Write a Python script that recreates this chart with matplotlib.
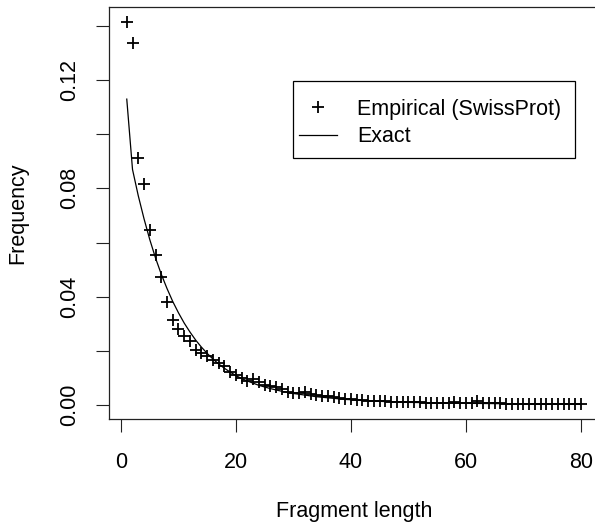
"""Fragment length distribution: empirical SwissProt frequencies vs exact curve."""

import numpy as np
import matplotlib
matplotlib.use('Agg')
import matplotlib.pyplot as plt
from matplotlib.patches import Rectangle

plt.rcParams['font.family'] = ['Liberation Sans', 'DejaVu Sans']

# Fragment lengths 1..80
lengths = list(range(1, 81))

# Empirical frequencies (SwissProt)
empirical = [
    0.1414, 0.1338, 0.0911, 0.0816, 0.0648, 0.0554, 0.0472, 0.0381, 0.0312, 0.0281,
    0.0253, 0.0235, 0.0201, 0.0191, 0.0179, 0.0167, 0.0154, 0.0142, 0.0120, 0.0111,
    0.0100, 0.0088, 0.0095, 0.0086, 0.0074, 0.0070, 0.0065, 0.0058, 0.0049, 0.0044,
    0.0043, 0.0046, 0.0041, 0.0037, 0.0033, 0.0031, 0.0028, 0.0025, 0.0022, 0.0020,
    0.0019, 0.0017, 0.0016, 0.0015, 0.0014, 0.0013, 0.0012, 0.0011, 0.0010, 0.0010,
    0.0009, 0.0009, 0.0008, 0.0008, 0.0007, 0.0007, 0.0007, 0.0009, 0.0006, 0.0006,
    0.0006, 0.0014, 0.0005, 0.0005, 0.0005, 0.0005, 0.0004, 0.0004, 0.0004, 0.0004,
    0.0004, 0.0004, 0.0003, 0.0003, 0.0003, 0.0003, 0.0003, 0.0003, 0.0003, 0.0003,
]

# Exact curve values at the same lengths
exact = [
    0.1130, 0.0870, 0.0773, 0.0688, 0.0611, 0.0543, 0.0483, 0.0430, 0.0382, 0.0340,
    0.0302, 0.0269, 0.0239, 0.0213, 0.0190, 0.0169, 0.0151, 0.0135, 0.0121, 0.0108,
    0.0097, 0.0088, 0.0080, 0.0072, 0.0066, 0.0060, 0.0055, 0.0050, 0.0046, 0.0042,
    0.0039, 0.0036, 0.0033, 0.0030, 0.0028, 0.0026, 0.0024, 0.0022, 0.0020, 0.0019,
    0.0017, 0.0016, 0.0015, 0.0014, 0.0013, 0.0012, 0.0011, 0.0011, 0.0010, 0.0009,
    0.00088, 0.00084, 0.0008, 0.00076, 0.00072, 0.00068, 0.00065, 0.00062, 0.00059, 0.00056,
    0.00054, 0.00052, 0.0005, 0.00048, 0.00046, 0.00044, 0.00042, 0.00041, 0.0004, 0.00038,
    0.00037, 0.00036, 0.00035, 0.00034, 0.00033, 0.00032, 0.00031, 0.0003, 0.0003, 0.00029,
]

x_ticks = [0, 20, 40, 60, 80]
y_ticks = [0.0, 0.02, 0.04, 0.06, 0.08, 0.10, 0.12, 0.14]
y_labels = ['0.00', '', '0.04', '', '0.08', '', '0.12', '']

FS = 15.5
W, H = 595, 522
fig = plt.figure(figsize=(W / 100, H / 100), dpi=100)
# axes box in pixels: left 108.6, right 599 (runs past the image edge), top 7, bottom 419.3
ax = fig.add_axes([108.6 / W, (H - 419.3) / H, (599 - 108.6) / W, (419.3 - 7) / H])

ax.plot(lengths, empirical, linestyle='none', marker='+', markersize=9,
        markeredgewidth=1.3, color='black', label='Empirical (SwissProt)')
ax.plot(lengths, exact, '-', color='black', linewidth=0.9, label='Exact')

# R-style 4% padding
ax.set_xlim(1 - 0.04 * 79, 80 + 0.04 * 79)
ax.set_ylim(0.0003 - 0.04 * 0.1411, 0.1414 + 0.04 * 0.1411)

ax.set_xticks(x_ticks)
ax.set_xticklabels([str(t) for t in x_ticks])
ax.set_yticks(y_ticks)
ax.set_yticklabels(y_labels, rotation=90, va='center')
ax.tick_params(axis='both', length=9.5, width=0.8, labelsize=FS, color='#222222')
ax.tick_params(axis='x', pad=14)
ax.tick_params(axis='y', pad=11)
for s in ax.spines.values():
    s.set_linewidth(0.9)
    s.set_color('#222222')

fig.text(354 / W, 1 - 511 / H, 'Fragment length', ha='center', va='center', fontsize=FS)
fig.text(18 / W, 1 - 213 / H, 'Frequency', ha='center', va='center', rotation=90, fontsize=FS)

# legend frame drawn as a plain rectangle, legend itself without frame
ax.add_patch(Rectangle((0.376, 0.634), 0.575, 0.1865, transform=ax.transAxes,
                       fill=False, edgecolor='black', linewidth=0.9, zorder=5))
ax.legend(loc='upper left', bbox_to_anchor=(0.388, 0.777), frameon=False,
          fontsize=FS, numpoints=1, handlelength=1.75, handletextpad=0.95,
          borderpad=0, borderaxespad=0, labelspacing=0.3)

fig.savefig('out.png', dpi=100)
